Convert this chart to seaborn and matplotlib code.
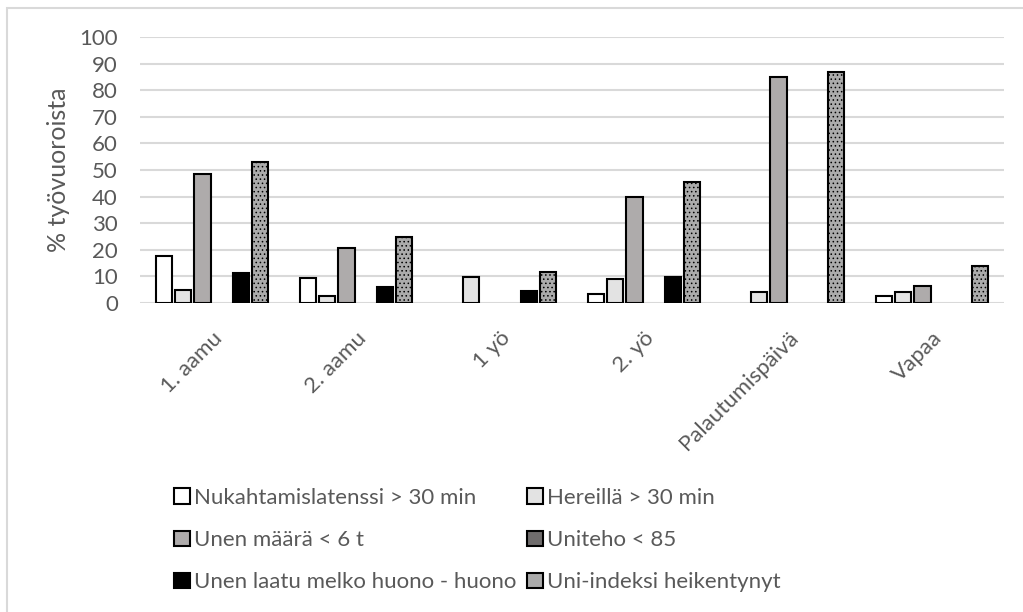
import pandas as pd
import matplotlib.pyplot as plt
import seaborn as sns
from matplotlib.patches import Rectangle

# Data
categories = ["1. aamu", "2. aamu", "1 yö", "2. yö", "Palautumispäivä", "Vapaa"]
series = ["Nukahtamislatenssi > 30 min", "Hereillä > 30 min", "Unen määrä < 6 t",
          "Uniteho < 85", "Unen laatu melko huono - huono", "Uni-indeksi heikentynyt"]
nukahtamis = [17.7, 9.3, 0, 3.3, 0, 2.8]
hereilla = [5.0, 2.5, 9.8, 9.0, 4.1, 4.1]
unen_maara = [48.4, 20.7, 0, 40.0, 85.0, 6.3]
uniteho = [0, 0, 0, 0, 0, 0]
unen_laatu = [11.3, 6.0, 4.4, 9.9, 0, 0]
uni_indeksi = [53.1, 25.0, 11.6, 45.4, 87.0, 13.8]

colors = ["#ffffff", "#e3e3e3", "#aeaaaa", "#6f6c6c", "#000000", "#ababab"]

df = pd.DataFrame({
    "cat": categories * 6,
    "series": [s for s in series for _ in categories],
    "val": nukahtamis + hereilla + unen_maara + uniteho + unen_laatu + uni_indeksi,
})

sns.set_style("white")
plt.rcParams["font.family"] = ["Lato", "DejaVu Sans"]
plt.rcParams["hatch.linewidth"] = 0.6
text_col = "#595959"

fig = plt.figure(figsize=(10.23, 6.12), dpi=100)
ax = fig.add_axes([140 / 1023, 1 - 303 / 612, 864 / 1023, 266 / 612])

sns.barplot(data=df, x="cat", y="val", hue="series", order=categories, hue_order=series,
            palette=colors, edgecolor="black", linewidth=1.5, width=0.8, gap=0.15,
            errorbar=None, legend=True, ax=ax)

# texture-ish fill for the Uni-indeksi bars
for p in ax.containers[5]:
    p.set_hatch("....")
# hide empty bars
for cont in ax.containers:
    for p in cont:
        if p.get_height() == 0:
            p.set_visible(False)

ax.set_ylim(0, 100)
ax.set_yticks(range(0, 101, 10))
ax.yaxis.grid(True, color="#d9d9d9", linewidth=1.5)
ax.set_axisbelow(True)
for s in ax.spines.values():
    s.set_visible(False)
ax.tick_params(axis="both", length=0, labelsize=16, labelcolor=text_col)
ax.tick_params(axis="y", pad=16)
ax.tick_params(axis="x", pad=18)
ax.set_xticks(range(len(categories)))
ax.set_xticklabels(categories, rotation=45, ha="right", rotation_mode="anchor")
ax.set_xlabel("")
ax.set_ylabel("% työvuoroista", fontsize=18, color=text_col)
ax.yaxis.set_label_coords(-70 / 864, 0.5)

handles, labels = ax.get_legend_handles_labels()
ax.get_legend().remove()
order = [0, 2, 4, 1, 3, 5]
fig.legend([handles[i] for i in order], [labels[i] for i in order], ncol=2,
           loc="upper left", bbox_to_anchor=(154 / 1023, 1 - 468 / 612),
           frameon=False, fontsize=16, labelcolor=text_col,
           handlelength=0.7, handleheight=0.7, handletextpad=0.2,
           columnspacing=0.5, labelspacing=1.0)

# light chart frame
fig.patches.append(Rectangle((7 / 1023, -0.05), 1.1, 1 - 8 / 612 + 0.05,
                             transform=fig.transFigure, fill=False,
                             edgecolor="#d9d9d9", linewidth=1.5))

plt.savefig("out.png", dpi=100)
